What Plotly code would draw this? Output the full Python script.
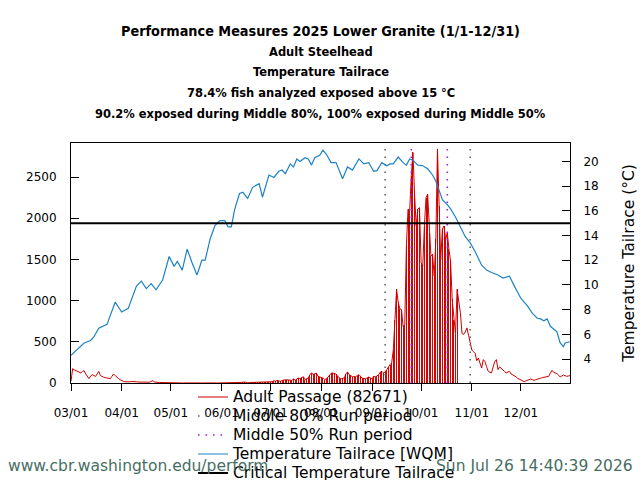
import numpy as np
import pandas as pd
import plotly.graph_objects as go

# ---------------- data ----------------
START = "2025-03-01"
END = "2025-12-31"

passage_mar = [20, 174, 160, 150, 140, 125, 122, 140, 150, 110, 75, 52, 85, 100, 90, 80, 110, 141, 90, 77,
               70, 65, 61, 55, 52, 80, 110, 90, 68, 55, 40]
passage_apr = [28, 20, 15, 12, 10, 15, 18, 20, 18, 15, 12, 12, 10, 12, 10, 12, 8, 10, 20, 28,
               12, 8, 6, 5, 6, 5, 4, 5, 3, 3]
passage_may = [2, 3, 2, 1, 2, 3, 2, 1, 0, 1, 2, 1, 0, 1, 1, 0, 2, 1, 0, 1,
               0, 0, 1, 0, 1, 0, 0, 1, 0, 0, 1]
passage_jun = [0, 1, 0, 1, 2, 1, 0, 2, 1, 3, 2, 4, 5, 8, 12, 6, 4, 5, 6, 8,
               7, 9, 10, 12, 14, 16, 15, 16, 18, 16]
passage_jul = [16, 16, 28, 22, 32, 25, 20, 30, 36, 40, 38, 40, 35, 28, 53, 32, 45, 61, 50, 68,
               77, 40, 50, 61, 100, 122, 105, 110, 118, 81, 75]
passage_aug = [73, 60, 40, 49, 70, 101, 118, 122, 115, 109, 81, 65, 49, 55, 61, 110, 134, 101, 85, 77,
               77, 77, 90, 101, 80, 57, 55, 53, 62, 73, 61]
passage_sep = [49, 81, 75, 85, 101, 130, 142, 122, 134, 162, 195, 223, 243, 400, 770, 1135, 980, 900, 892, 689,
               710, 1663, 2109, 2088, 2514, 2798, 2290, 1906, 2109, 2129]
passage_oct = [1460, 1419, 1906, 2250, 2291, 1825, 1541, 1561, 1298, 1744, 2838, 2149, 1500, 1865, 1906, 1744,
               1825, 1622, 1480, 1014, 770, 600, 1135, 1000, 852, 600, 590, 620, 669, 580, 480]
passage_nov = [400, 380, 360, 270, 304, 240, 182, 284, 260, 200, 142, 130, 122, 195, 260, 284, 162, 195, 180, 162,
               140, 122, 130, 142, 110, 101, 89, 75, 57, 45]
passage_dec = [32, 25, 16, 25, 32, 40, 49, 40, 32, 40, 49, 52, 57, 65, 70, 73, 78, 81, 120, 154,
               130, 122, 114, 95, 73, 85, 97, 89, 81, 85, 90]

temp_dates = [
    "2025-03-01", "2025-03-05", "2025-03-09", "2025-03-13", "2025-03-15", "2025-03-18", "2025-03-23", "2025-03-28",
    "2025-04-01", "2025-04-05", "2025-04-10", "2025-04-13", "2025-04-16", "2025-04-19", "2025-04-22", "2025-04-26",
    "2025-04-30", "2025-05-03", "2025-05-05", "2025-05-08", "2025-05-11", "2025-05-14", "2025-05-17", "2025-05-20",
    "2025-05-22", "2025-05-25", "2025-05-28", "2025-05-31", "2025-06-03", "2025-06-05", "2025-06-07", "2025-06-09",
    "2025-06-12", "2025-06-14", "2025-06-17", "2025-06-20", "2025-06-24", "2025-06-26", "2025-06-30", "2025-07-03",
    "2025-07-06", "2025-07-08", "2025-07-10", "2025-07-13", "2025-07-15", "2025-07-17", "2025-07-19", "2025-07-22",
    "2025-07-24", "2025-07-26", "2025-07-28", "2025-07-31", "2025-08-02", "2025-08-04", "2025-08-07", "2025-08-10",
    "2025-08-14", "2025-08-17", "2025-08-20", "2025-08-24", "2025-08-27", "2025-08-30", "2025-09-02", "2025-09-04",
    "2025-09-07", "2025-09-10", "2025-09-12", "2025-09-14", "2025-09-17", "2025-09-20", "2025-09-22", "2025-09-24",
    "2025-09-26", "2025-09-29", "2025-10-02", "2025-10-05", "2025-10-08", "2025-10-10", "2025-10-12", "2025-10-14",
    "2025-10-17", "2025-10-19", "2025-10-22", "2025-10-25", "2025-10-28", "2025-10-31", "2025-11-03", "2025-11-07",
    "2025-11-10", "2025-11-13", "2025-11-17", "2025-11-20", "2025-11-24", "2025-11-27", "2025-12-01", "2025-12-05",
    "2025-12-08", "2025-12-11", "2025-12-13", "2025-12-15", "2025-12-17", "2025-12-19", "2025-12-23", "2025-12-25",
    "2025-12-27", "2025-12-28", "2025-12-30", "2025-12-31",
]
temp_values = [
    4.3, 4.8, 5.3, 5.5, 5.8, 6.5, 6.8, 8.6,
    7.8, 8.1, 9.9, 10.3, 9.7, 10.1, 9.6, 10.4,
    12.3, 11.5, 11.9, 11.2, 12.9, 11.8, 10.8, 12.0,
    12.0, 13.7, 14.8, 15.2, 15.2, 14.7, 14.7, 16.1,
    17.4, 17.5, 17.0, 17.9, 18.2, 17.1, 18.9, 18.7,
    19.2, 19.3, 19.0, 19.8, 19.55, 20.2, 20.0, 20.3,
    20.2, 19.7, 20.3, 20.5, 20.9, 20.6, 19.9, 19.9,
    18.6, 19.55, 19.3, 20.2, 19.8, 19.9, 19.2, 19.25,
    19.9, 19.65, 19.8, 19.8, 20.35, 19.9, 19.7, 20.2,
    20.1, 19.7, 19.65, 19.4, 18.9, 18.4, 17.65, 16.9,
    16.5, 16.15, 15.5, 14.75, 13.9, 13.4, 12.7, 11.6,
    11.2, 11.0, 10.8, 10.55, 10.7, 9.9, 8.9, 8.3,
    7.7, 7.3, 7.25, 7.1, 7.25, 6.65, 6.2, 5.3,
    5.0, 5.3, 5.4, 5.4,
]

MID80 = ["2025-09-09", "2025-10-31"]
MID50 = ["2025-09-25", "2025-10-17"]
CRITICAL_TEMP = 15
PASSAGE_TOTAL = 82671

month_ticks = ["2025-03-01", "2025-04-01", "2025-05-01", "2025-06-01", "2025-07-01",
               "2025-08-01", "2025-09-01", "2025-10-01", "2025-11-01", "2025-12-01"]
month_labels = ["03/01", "04/01", "05/01", "06/01", "07/01", "08/01", "09/01", "10/01", "11/01", "12/01"]
left_ticks = [0, 500, 1000, 1500, 2000, 2500]
right_ticks = [4, 6, 8, 10, 12, 14, 16, 18, 20]
Y_RANGE = [0, 2913]
Y2_RANGE = [2.057, 21.49]

title_lines = [
    "Performance Measures 2025 Lower Granite (1/1-12/31)",
    "Adult Steelhead",
    "Temperature Tailrace",
    "78.4% fish analyzed exposed above 15 \u00b0C",
    "90.2% exposed during Middle 80%, 100% exposed during Middle 50%",
]
footer_left = "www.cbr.washington.edu/perform"
footer_right = "Sun Jul 26 14:40:39 2026"

# ---------------- derived ----------------
passage = (passage_mar + passage_apr + passage_may + passage_jun + passage_jul +
           passage_aug + passage_sep + passage_oct + passage_nov + passage_dec)
passage_dates = pd.date_range(START, periods=len(passage), freq="D")
passage = np.array(passage, dtype=float)

tdates = pd.to_datetime(temp_dates)
t0 = pd.Timestamp(START)
temp_days = np.array([(d - t0).days for d in tdates], dtype=float)
pass_days = np.array([(d - t0).days for d in passage_dates], dtype=float)
temp_at_pass = np.interp(pass_days, temp_days, temp_values)
exposed = temp_at_pass > CRITICAL_TEMP

# ---------------- layout geometry ----------------
W, H = 640, 480
ML, MR, MT, MB = 71, 70, 143, 97
PW = W - ML - MR
PH = H - MT - MB


def px_x(x):
    return (x - ML) / PW


def px_y(y):
    return (H - MB - y) / PH


RED = "#d00000"
BLUE = "#1f82c4"
GREY = "#666666"
PURPLE = "#a020f0"
FONT = "DejaVu Sans"
LEG_FS = "15.5px"


def leg(name):
    return f'<span style="font-size:{LEG_FS}">{name}</span>'


fig = go.Figure()

fig.add_trace(go.Bar(
    x=passage_dates[exposed], y=passage[exposed],
    width=0.63 * 86400000, marker=dict(color="rgba(208,0,0,0.99)", line=dict(width=0)),
    showlegend=False, hoverinfo="skip"))

fig.add_trace(go.Scatter(
    x=passage_dates, y=passage, mode="lines",
    line=dict(color=RED, width=1),
    name=leg(f"Adult Passage ({PASSAGE_TOTAL})")))

fig.add_trace(go.Scatter(
    x=[MID80[0], MID80[0], None, MID80[1], MID80[1]],
    y=[Y_RANGE[0], Y_RANGE[1], None, Y_RANGE[0], Y_RANGE[1]],
    mode="lines", line=dict(color=GREY, width=1.6, dash="1.6px,5.9px"),
    name=leg("Middle 80% Run period")))

fig.add_trace(go.Scatter(
    x=[MID50[0], MID50[0], None, MID50[1], MID50[1]],
    y=[Y_RANGE[0], Y_RANGE[1], None, Y_RANGE[0], Y_RANGE[1]],
    mode="lines", line=dict(color=PURPLE, width=1.6, dash="1.6px,5.9px"),
    name=leg("Middle 50% Run period")))

fig.add_trace(go.Scatter(
    x=tdates, y=temp_values, mode="lines", yaxis="y2",
    line=dict(color=BLUE, width=1.2),
    name=leg("Temperature Tailrace [WQM]")))

fig.add_trace(go.Scatter(
    x=[START, END], y=[CRITICAL_TEMP, CRITICAL_TEMP], mode="lines", yaxis="y2",
    line=dict(color="black", width=2),
    name=leg("Critical Temperature Tailrace")))

tickfont = dict(family=FONT, size=12, color="black")

annotations = []
title_y = [31, 51, 72, 92.5, 113]
title_size = [14.3, 12.75, 12.75, 12.75, 12.75]
for txt, yy, fs in zip(title_lines, title_y, title_size):
    annotations.append(dict(
        text=f"<b>{txt}</b>", x=0.5, xref="paper", xanchor="center",
        y=px_y(yy), yref="paper", yanchor="middle", showarrow=False,
        font=dict(family="DejaVu Sans Condensed, DejaVu Sans", size=fs, color="black")))

footer_font = dict(family=FONT, size=15.5, color="#466e63")
annotations.append(dict(text=footer_left, x=px_x(6), xref="paper", xanchor="left",
                        y=px_y(466), yref="paper", yanchor="middle", showarrow=False,
                        font=footer_font))
annotations.append(dict(text=footer_right, x=px_x(635), xref="paper", xanchor="right",
                        y=px_y(466), yref="paper", yanchor="middle", showarrow=False,
                        font=footer_font))

fig.update_layout(
    width=W, height=H,
    margin=dict(l=ML, r=MR, t=MT, b=MB, pad=0, autoexpand=False),
    paper_bgcolor="white", plot_bgcolor="white",
    showlegend=True,
    bargap=0,
    legend=dict(x=px_x(193), xanchor="left", y=px_y(382.5), yanchor="top",
                bgcolor="rgba(0,0,0,0)", borderwidth=0,
                font=dict(family=FONT, size=12, color="black"),
                itemwidth=30, tracegroupgap=0, traceorder="normal"),
    xaxis=dict(type="date", range=[START, END], tickvals=month_ticks, ticktext=month_labels,
               ticks="outside", ticklen=7, tickcolor="black", tickwidth=1,
               showline=True, linecolor="black", linewidth=1, mirror=True,
               showgrid=False, zeroline=False, tickfont=tickfont, ticklabelstandoff=12,
               automargin=False),
    yaxis=dict(range=Y_RANGE, tickvals=left_ticks, ticks="inside", ticklen=8,
               tickcolor="black", showline=True, linecolor="black", linewidth=1,
               showgrid=False, zeroline=False, tickfont=tickfont, ticklabelstandoff=11,
               automargin=False),
    yaxis2=dict(range=Y2_RANGE, tickvals=right_ticks, overlaying="y", side="right",
                ticks="inside", ticklen=8, tickcolor="black", showline=True,
                linecolor="black", linewidth=1, showgrid=False, zeroline=False,
                tickfont=tickfont, ticklabelstandoff=10, automargin=False,
                title=dict(text="Temperature Tailrace (\u00b0C)",
                           font=dict(family=FONT, size=15.5, color="black"), standoff=25)),
    annotations=annotations,
)

fig.write_html("out.html")
